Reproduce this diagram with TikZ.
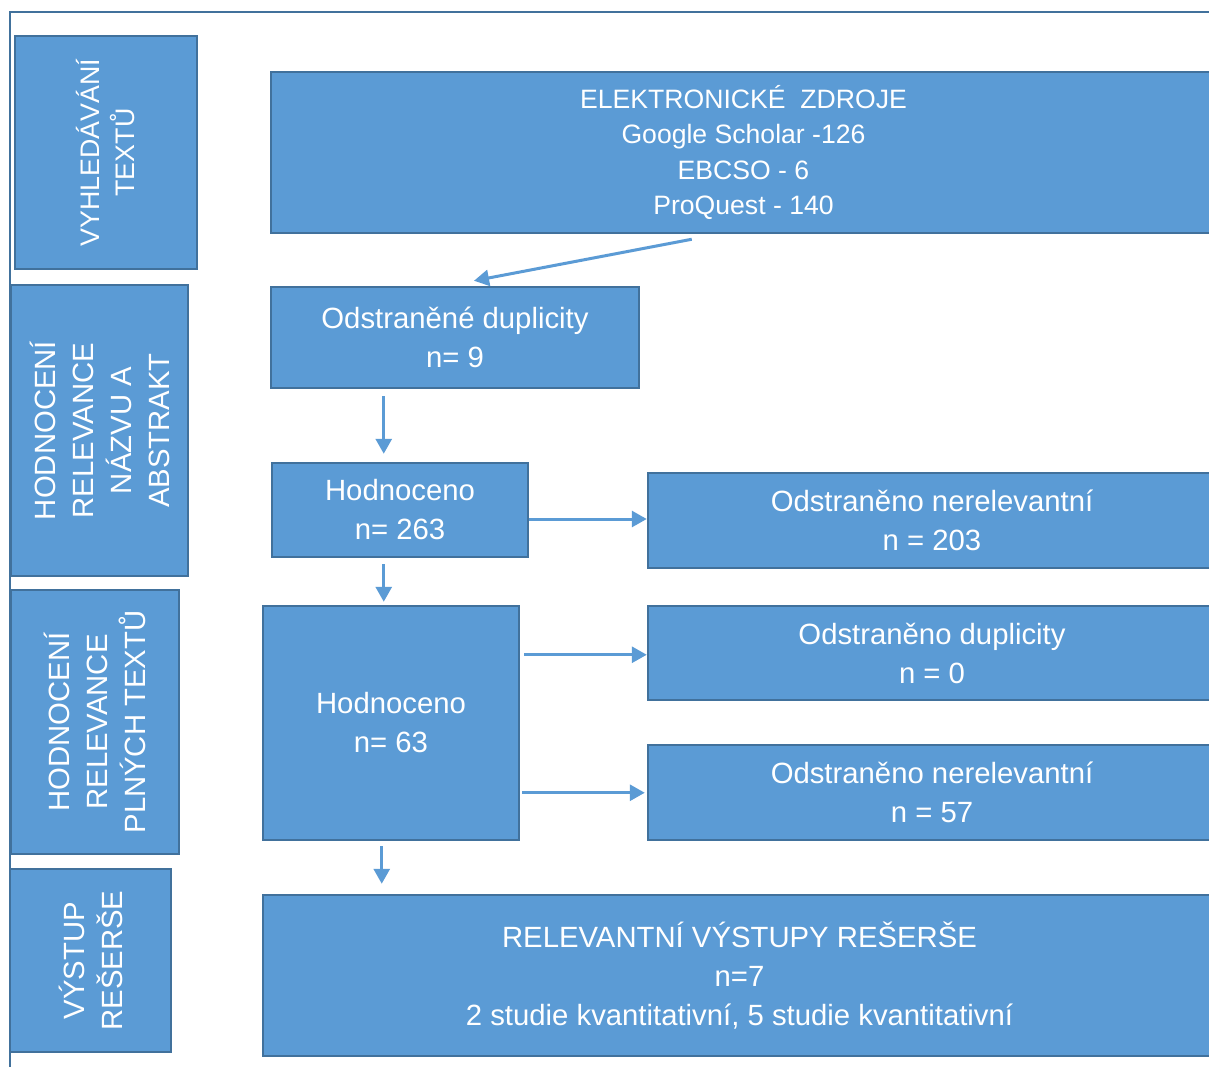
\documentclass[tikz,border=0pt]{standalone}
\usepackage{fontspec}
\setmainfont{Liberation Sans}
\usetikzlibrary{arrows.meta,calc}
\definecolor{boxfill}{HTML}{5B9BD5}
\definecolor{boxline}{HTML}{41719C}
\begin{document}
\begin{tikzpicture}[x=1pt,y=-1pt,
 box/.style={draw=boxline, fill=boxfill, line width=2.5pt, text=white, align=center,
   font=\fontsize{29.3}{39}\selectfont, inner sep=0pt, anchor=center},
 sidebox/.style={box, rotate=90, font=\fontsize{29.3}{38}\selectfont},
 conn/.style={draw=boxfill, line width=3pt, -{Triangle[length=15pt,width=16pt]}}]
\clip (0,0) rectangle (1209,1066);
\fill[white] (0,0) rectangle (1209,1066);
\draw[boxline, line width=2pt] (10,1070) -- (10,12) -- (1215,12);
% side boxes
\node[sidebox, minimum width=233, minimum height=182, font=\fontsize{26.8}{35}\selectfont] (s1) at (106,152.5) {VYHLEDÁVÁNÍ\\TEXTŮ};
\node[sidebox, minimum width=291, minimum height=177] (s2) at (99.5,430.5) {HODNOCENÍ\\RELEVANCE\\NÁZVU A\\ABSTRAKT};
\node[sidebox, minimum width=264, minimum height=168] (s3) at (95,722) {HODNOCENÍ\\RELEVANCE\\PLNÝCH TEXTŮ};
\node[sidebox, minimum width=183, minimum height=161] (s4) at (90.5,960.5) {VÝSTUP\\REŠERŠE};
% main boxes
\node[box, minimum width=945, minimum height=161, font=\fontsize{26.6}{35.5}\selectfont] (src) at (743.5,152.5)
  {ELEKTRONICKÉ\ \ ZDROJE\\Google Scholar -126\\EBCSO - 6\\ProQuest - 140};
\node[box, minimum width=368, minimum height=101] (dup) at (455,337.5) {Odstraněné duplicity\\n= 9};
\node[box, minimum width=256, minimum height=94] (h263) at (400,510) {Hodnoceno\\n= 263};
\node[box, minimum width=568, minimum height=95] (ner203) at (932,520.5) {Odstraněno nerelevantní\\n = 203};
\node[box, minimum width=256, minimum height=234] (h63) at (391,723) {Hodnoceno\\n= 63};
\node[box, minimum width=568, minimum height=94] (dup0) at (932,653) {Odstraněno duplicity\\n = 0};
\node[box, minimum width=568, minimum height=95] (ner57) at (932,792.5) {Odstraněno nerelevantní\\n = 57};
\node[box, minimum width=953, minimum height=161] (rel) at (739.5,975.5)
  {RELEVANTNÍ VÝSTUPY REŠERŠE\\n=7\\2 studie kvantitativní, 5 studie kvantitativní};
% connector start points
\coordinate (a3s) at ($(h263.east)+(0,9)$);
\coordinate (a5s) at ($(h63.north east)+(4,50)$);
\coordinate (a6s) at ($(h63.north east)+(2,188)$);
% connectors
\draw[conn] ($(src.south west)+(422,5)$) -- ($(dup.north)+(19,-5)$);
\draw[conn] ($(dup.south west)+(114,7)$) -- ($(h263.north west)+(113,-8)$);
\draw[conn] (a3s) -- (a3s -| ner203.west);
\draw[conn] ($(h263.south west)+(113,6)$) -- ($(h63.north west)+(122,-3)$);
\draw[conn] (a5s) -- (a5s -| dup0.west);
\draw[conn] (a6s) -- ($(a6s -| ner57.west)+(-2,0)$);
\draw[conn] ($(h63.south west)+(120,5)$) -- ($(rel.north west)+(120,-10)$);
\end{tikzpicture}
\end{document}
